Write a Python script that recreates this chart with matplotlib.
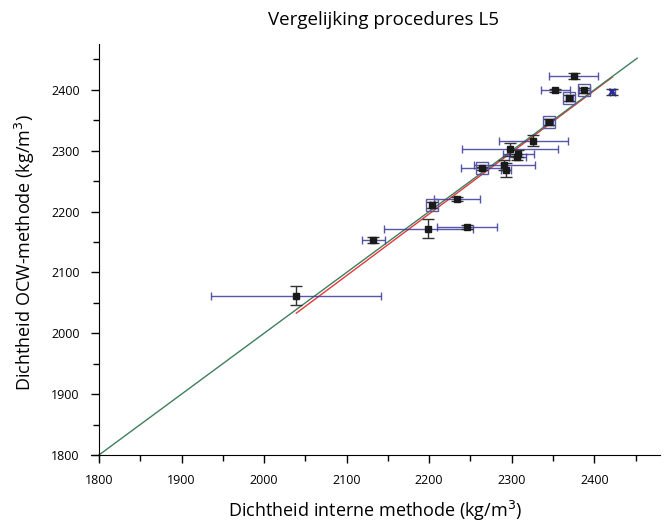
import matplotlib.pyplot as plt
from matplotlib.ticker import MultipleLocator

plt.rcParams['font.family'] = ['Open Sans', 'DejaVu Sans']

# meetpunten: interne methode (x) tegen OCW-methode (y)
x_int = [2039, 2132, 2199, 2246, 2204, 2234, 2264, 2291, 2293, 2298, 2308, 2307,
         2326, 2345, 2370, 2353, 2388, 2422, 2375]
y_ocw = [2062, 2153, 2172, 2175, 2211, 2221, 2271, 2276, 2268, 2302, 2295, 2289,
         2316, 2347, 2386, 2399, 2399, 2397, 2422]
x_err = [103, 14, 54, 36, 3, 28, 25, 37, 6, 58, 19, 10, 42, 5, 4, 18, 7, 3, 30]
y_err = [16, 5, 16, 3, 5, 3, 3, 8, 12, 10, 6, 5, 9, 5, 5, 3, 4, 5, 5]
boxed = [2204, 2264, 2345, 2370, 2388]

ident_x = [1800, 2452]
fit_x = [2039, 2422]
fit_y = [2033, 2421]

fig = plt.figure(figsize=(6.7, 5.23), dpi=100)
ax = fig.add_axes([0.1355, 0.1185, 0.85, 0.797])

ax.plot(ident_x, ident_x, color='#3f7f5c', lw=1.0, zorder=2)
ax.plot(fit_x, fit_y, color='#e8373a', lw=1.0, zorder=1)

ax.errorbar(x_int, y_ocw, xerr=x_err, fmt='none', ecolor='#3a3a9a', elinewidth=1.0,
            capsize=3, capthick=1.0, alpha=0.85, zorder=3)
ax.errorbar(x_int, y_ocw, yerr=y_err, fmt='none', ecolor='#333333', elinewidth=1.0,
            capsize=4, capthick=1.0, zorder=4)
ax.plot(x_int[:-2], y_ocw[:-2], 's', color='#1a1a1a', ms=5, zorder=5)
ax.plot(x_int[-1:], y_ocw[-1:], 's', color='#1a1a1a', ms=5, zorder=5)
ax.plot(x_int[-2:-1], y_ocw[-2:-1], 'x', color='#2a2aa0', ms=5, mew=1.5, zorder=5)
for bx in boxed:
    i = x_int.index(bx)
    ax.plot(x_int[i], y_ocw[i], 's', mfc='none', mec='#5a5aa0', ms=9, mew=1.0, zorder=5)

ax.set_xlim(1790, 2480)
ax.set_ylim(1790, 2475)
ax.spines['top'].set_visible(False)
ax.spines['right'].set_visible(False)
ax.spines['left'].set_position(('data', 1800))
ax.spines['bottom'].set_position(('data', 1800))
ax.xaxis.set_major_locator(MultipleLocator(100))
ax.xaxis.set_minor_locator(MultipleLocator(50))
ax.yaxis.set_major_locator(MultipleLocator(100))
ax.yaxis.set_minor_locator(MultipleLocator(50))
ax.tick_params(which='major', length=6, width=1, labelsize=9, pad=8)
ax.tick_params(which='minor', length=4, width=1)

ax.set_xlabel('Dichtheid interne methode (kg/m$^3$)', fontsize=13, labelpad=8)
ax.set_ylabel('Dichtheid OCW-methode (kg/m$^3$)', fontsize=13, labelpad=10)
fig.text(0.573, 0.962, 'Vergelijking procedures L5', ha='center', va='center', fontsize=13.5)

fig.savefig('out.png', dpi=100)
